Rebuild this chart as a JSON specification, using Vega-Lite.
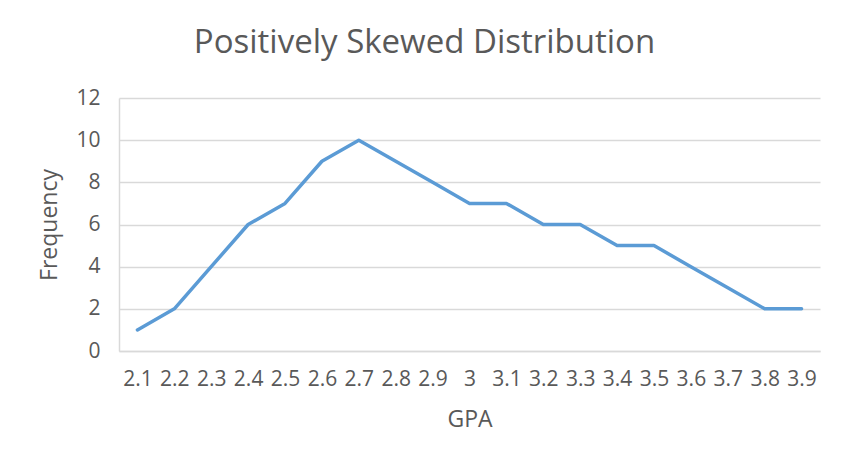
{
  "$schema": "https://vega.github.io/schema/vega-lite/v6.json",
  "width": 701,
  "height": 253,
  "autosize": {"type": "none"},
  "padding": {"left": 119, "top": 98, "right": 26, "bottom": 117},
  "background": "white",
  "config": {"view": {"stroke": null}, "font": "Open Sans"},
  "title": {
    "text": "Positively Skewed Distribution",
    "font": "Open Sans",
    "fontSize": 33,
    "fontWeight": "normal",
    "color": "#595959",
    "anchor": "middle",
    "frame": "group",
    "dx": -45,
    "baseline": "alphabetic",
    "offset": 1
  },
  "data": {
    "values": [
      {"GPA": "2.1", "Frequency": 1},
      {"GPA": "2.2", "Frequency": 2},
      {"GPA": "2.3", "Frequency": 4},
      {"GPA": "2.4", "Frequency": 6},
      {"GPA": "2.5", "Frequency": 7},
      {"GPA": "2.6", "Frequency": 9},
      {"GPA": "2.7", "Frequency": 10},
      {"GPA": "2.8", "Frequency": 9},
      {"GPA": "2.9", "Frequency": 8},
      {"GPA": "3", "Frequency": 7},
      {"GPA": "3.1", "Frequency": 7},
      {"GPA": "3.2", "Frequency": 6},
      {"GPA": "3.3", "Frequency": 6},
      {"GPA": "3.4", "Frequency": 5},
      {"GPA": "3.5", "Frequency": 5},
      {"GPA": "3.6", "Frequency": 4},
      {"GPA": "3.7", "Frequency": 3},
      {"GPA": "3.8", "Frequency": 2},
      {"GPA": "3.9", "Frequency": 2}
    ]
  },
  "mark": {"type": "line", "color": "#5b9bd5", "strokeWidth": 3.5, "strokeCap": "round", "strokeJoin": "round"},
  "encoding": {
    "x": {
      "field": "GPA",
      "type": "ordinal",
      "sort": null,
      "scale": {"type": "point", "padding": 0.5},
      "axis": {
        "title": "GPA",
        "titleFontSize": 23,
        "titleFontWeight": "normal",
        "titleColor": "#595959",
        "titlePadding": 19,
        "labelAngle": 0,
        "labelFontSize": 21,
        "labelColor": "#595959",
        "labelPadding": 17,
        "ticks": false,
        "domainColor": "#d9d9d9",
        "domainWidth": 1.5,
        "grid": false
      }
    },
    "y": {
      "field": "Frequency",
      "type": "quantitative",
      "scale": {"domain": [0, 12]},
      "axis": {
        "values": [0, 2, 4, 6, 8, 10, 12],
        "title": "Frequency",
        "titleFontSize": 23,
        "titleFontWeight": "normal",
        "titleColor": "#595959",
        "titlePadding": 14,
        "labelFontSize": 21,
        "labelColor": "#595959",
        "labelPadding": 19,
        "ticks": false,
        "domainColor": "#d9d9d9",
        "domainWidth": 1.5,
        "gridColor": "#d9d9d9",
        "gridWidth": 1.5
      }
    }
  }
}
